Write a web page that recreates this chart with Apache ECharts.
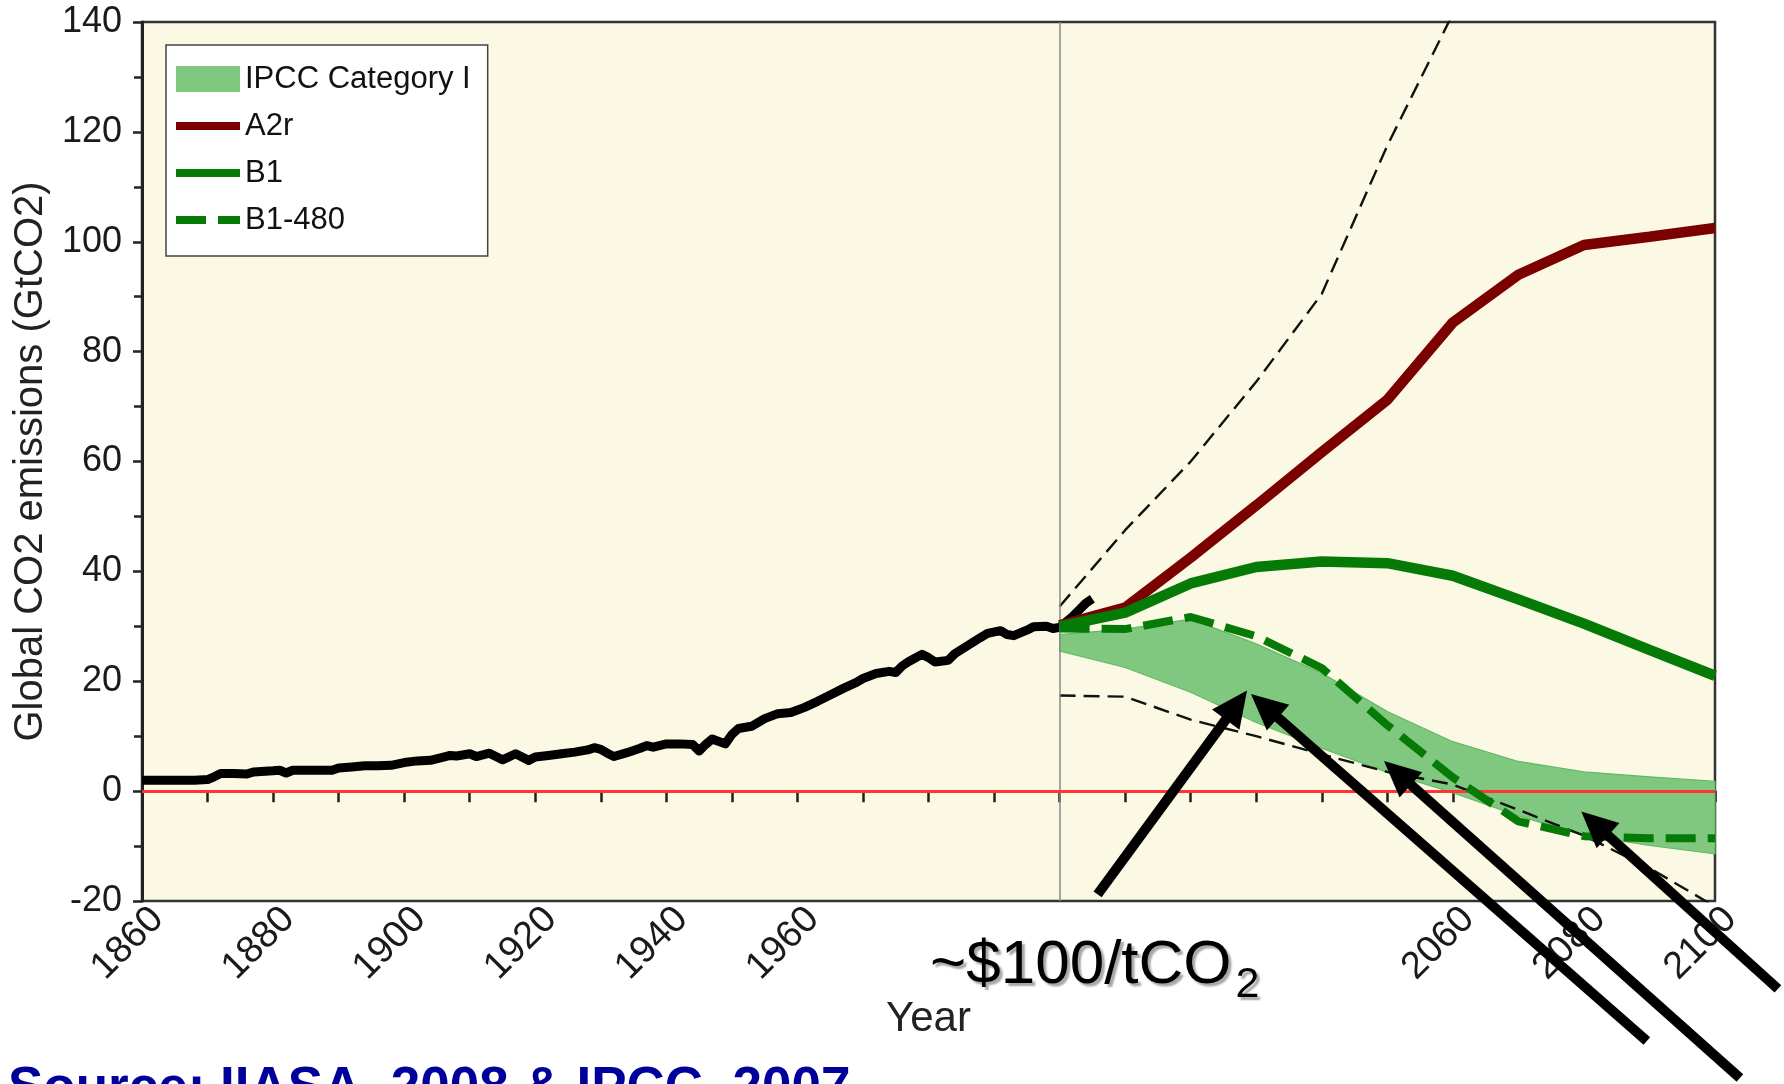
<!DOCTYPE html>
<html>
<head>
<meta charset="utf-8">
<title>Global CO2 emissions</title>
<script src="https://cdn.jsdelivr.net/npm/echarts@6.0.0/dist/echarts.min.js"></script>
<style>
  html, body { margin: 0; padding: 0; background: #ffffff; }
  #chart { width: 1784px; height: 1084px; }
</style>
</head>
<body>
<div id="chart"></div>
<script>
// Observed global CO2 emissions, [year, GtCO2]
const historical = [
  [1860, 2.0], [1862, 2.0], [1865, 2.0], [1868, 2.0], [1870, 2.1], [1871, 2.6], [1872, 3.2],
  [1874, 3.2], [1876, 3.1], [1877, 3.5], [1880, 3.7], [1881, 3.8], [1882, 3.3], [1883, 3.8],
  [1886, 3.8], [1889, 3.8], [1890, 4.2], [1892, 4.4], [1894, 4.6], [1896, 4.6], [1898, 4.7],
  [1900, 5.2], [1902, 5.5], [1904, 5.6], [1906, 6.2], [1907, 6.5], [1908, 6.4], [1910, 6.8],
  [1911, 6.3], [1912, 6.6], [1913, 6.9], [1915, 5.7], [1917, 6.8], [1919, 5.6], [1920, 6.2],
  [1922, 6.5], [1924, 6.8], [1926, 7.1], [1928, 7.5], [1929, 7.9], [1930, 7.6], [1931, 6.9],
  [1932, 6.3], [1934, 7.0], [1936, 7.8], [1937, 8.3], [1938, 8.0], [1940, 8.6], [1942, 8.6],
  [1944, 8.5], [1945, 7.3], [1946, 8.5], [1947, 9.5], [1949, 8.6], [1950, 10.3], [1951, 11.4],
  [1953, 11.8], [1955, 13.2], [1957, 14.1], [1959, 14.3], [1961, 15.2], [1963, 16.3], [1965, 17.5],
  [1967, 18.7], [1969, 19.8], [1970, 20.5], [1972, 21.4], [1974, 21.8], [1975, 21.6], [1976, 22.8],
  [1977, 23.6], [1979, 24.9], [1980, 24.3], [1981, 23.5], [1983, 23.8], [1984, 25.0], [1986, 26.5],
  [1988, 28.0], [1989, 28.7], [1991, 29.2], [1992, 28.5], [1993, 28.3], [1995, 29.3], [1996, 29.9],
  [1998, 30.0], [1999, 29.6], [2000, 29.8], [2001, 30.8], [2002, 31.8], [2003, 33.0], [2004, 34.2],
  [2005, 35.0]
];

// Scenario pathways, one value per decade
const scenarioYears = [2000, 2010, 2020, 2030, 2040, 2050, 2060, 2070, 2080, 2090, 2100];
const a2r       = [30.2, 33.4, 42.5, 52.0, 61.7, 71.2, 85.3, 94.0, 99.4, 100.9, 102.5];
const b1        = [30.0, 32.5, 37.8, 40.8, 41.8, 41.5, 39.2, 34.9, 30.5, 25.7, 21.0];
const b1_480    = [29.6, 29.5, 31.7, 28.2, 22.4, 12.0, 2.5, -5.5, -8.2, -8.6, -8.6];
const catIUpper = [28.5, 29.5, 31.3, 26.8, 21.5, 14.5, 9.0, 5.4, 3.5, 2.6, 1.8];
const catILower = [25.5, 22.5, 18.0, 12.5, 7.8, 3.4, -0.3, -4.5, -8.0, -9.9, -11.4];

// Envelope of the full scenario literature (thin dashed)
const envelopeHighYears = [2000, 2010, 2020, 2030, 2040, 2050, 2060];
const envelopeHigh      = [33.6, 47.5, 60.0, 74.5, 90.5, 117.5, 141.5];
const envelopeLow       = [17.4, 17.2, 13.0, 10.0, 6.7, 3.5, 1.2, -3.4, -8.1, -14.0, -21.0];

// Labelled year ticks
const xTickLabels = [1860, 1880, 1900, 1920, 1940, 1960, 2060, 2080, 2100];

// Call-out arrows: [tail, head] in [year, GtCO2]
const pointers = [
  [[2005.8, -18.8], [2028.6, 18.3]],
  [[2089.6, -45.5], [2029.2, 17.7]],
  [[2103.8, -52.2], [2049.5, 5.5]],
  [[2109.6, -36.0], [2079.6, -3.7]]
];

const SANS = '"Liberation Sans", Arial, Helvetica, sans-serif';

const pairs = (xs, ys) => ys.map((v, i) => [xs[i], v]);

const chart = echarts.init(document.getElementById('chart'), null, { renderer: 'canvas' });

const axisColor = '#222222';
const labelColor = '#1a1a1a';
const bandFill = '#80c880';
const bandEdge = '#62b962';
const a2rColor = '#7b0000';
const b1Color = '#067a06';

const option = {
  animation: false,
  backgroundColor: '#ffffff',
  grid: {
    left: 142, right: 69, top: 22, bottom: 183,
    show: true,
    backgroundColor: '#fbf9e3',
    borderColor: '#333333',
    borderWidth: 2.5
  },
  legend: {
    orient: 'vertical',
    left: 166,
    top: 45,
    backgroundColor: '#ffffff',
    borderColor: '#444444',
    borderWidth: 1.5,
    borderRadius: 0,
    padding: [14, 17, 16, 6],
    itemWidth: 64,
    itemHeight: 26,
    itemGap: 7,
    selectedMode: false,
    textStyle: { fontFamily: SANS, fontSize: 31, color: '#111111', lineHeight: 40 },
    data: [
      { name: 'IPCC Category I', icon: 'rect', itemStyle: { color: bandFill, opacity: 1 } },
      { name: 'A2r', itemStyle: { opacity: 0 }, lineStyle: { color: a2rColor, width: 8, type: 'solid' } },
      { name: 'B1', itemStyle: { opacity: 0 }, lineStyle: { color: b1Color, width: 8, type: 'solid' } },
      { name: 'B1-480', itemStyle: { opacity: 0 }, lineStyle: { color: b1Color, width: 8, type: [30, 12] } }
    ]
  },
  xAxis: {
    type: 'value',
    min: 1860,
    max: 2100,
    interval: 20,
    name: 'Year',
    nameLocation: 'middle',
    nameGap: 97,
    nameTextStyle: { fontFamily: SANS, fontSize: 42, color: '#222222' },
    splitLine: { show: false },
    axisLine: { lineStyle: { color: axisColor, width: 3 } },
    axisTick: { length: 11, lineStyle: { color: axisColor, width: 2.5 } },
    minorTick: { show: true, splitNumber: 2, length: 11, lineStyle: { color: axisColor, width: 2.5 } },
    axisLabel: {
      rotate: 45,
      margin: 28,
      padding: [0, -22, 0, 0],
      fontFamily: SANS,
      fontSize: 38,
      color: labelColor,
      formatter: v => (xTickLabels.indexOf(v) >= 0 ? String(v) : '')
    }
  },
  yAxis: {
    type: 'value',
    min: -20,
    max: 140,
    interval: 20,
    name: 'Global CO2 emissions (GtCO2)',
    nameLocation: 'middle',
    nameGap: 86,
    nameTextStyle: { fontFamily: SANS, fontSize: 40, color: '#222222' },
    splitLine: { show: false },
    axisLine: { lineStyle: { color: axisColor, width: 3 } },
    axisTick: { length: 9, lineStyle: { color: axisColor, width: 2.5 } },
    minorTick: { show: true, splitNumber: 2, length: 8, lineStyle: { color: axisColor, width: 2.5 } },
    axisLabel: { margin: 20, fontFamily: SANS, fontSize: 36, color: labelColor }
  },
  series: [
    {
      // IPCC Category I range, filled between its lower and upper bounds
      name: 'IPCC Category I',
      type: 'custom',
      silent: true,
      z: 2,
      itemStyle: { color: bandFill },
      data: scenarioYears.map((y, i) => [y, catILower[i], catIUpper[i]]),
      encode: { x: 0, y: [1, 2] },
      renderItem: (params, api) => {
        if (params.dataIndex !== 0) return null;
        const top = scenarioYears.map((y, i) => api.coord([y, catIUpper[i]]));
        const bottom = scenarioYears.map((y, i) => api.coord([y, catILower[i]])).reverse();
        return {
          type: 'polygon',
          shape: { points: top.concat(bottom) },
          style: { fill: bandFill, stroke: bandEdge, lineWidth: 1.2 }
        };
      }
    },
    {
      name: 'Envelope high',
      type: 'line',
      data: pairs(envelopeHighYears, envelopeHigh),
      symbol: 'none',
      silent: true,
      clip: true,
      lineStyle: { color: '#111111', width: 2.4, type: [16, 8] },
      z: 3
    },
    {
      name: 'Envelope low',
      type: 'line',
      data: pairs(scenarioYears, envelopeLow),
      symbol: 'none',
      silent: true,
      clip: true,
      lineStyle: { color: '#111111', width: 2.4, type: [16, 8] },
      z: 3,
      markLine: {
        silent: true,
        symbol: 'none',
        label: { show: false },
        lineStyle: { color: '#8a8a8a', width: 1.5, type: 'solid' },
        data: [{ xAxis: 2000 }]
      }
    },
    {
      name: 'Historical',
      type: 'line',
      data: historical,
      symbol: 'none',
      silent: true,
      lineStyle: { color: '#000000', width: 9, join: 'round' },
      z: 4,
      markLine: {
        silent: true,
        symbol: 'none',
        label: { show: false },
        lineStyle: { color: '#ff3535', width: 3, type: 'solid' },
        data: [{ yAxis: 0 }]
      }
    },
    {
      name: 'A2r',
      type: 'line',
      data: pairs(scenarioYears, a2r),
      symbol: 'none',
      silent: true,
      itemStyle: { color: a2rColor },
      lineStyle: { color: a2rColor, width: 10.5 },
      z: 5
    },
    {
      name: 'B1',
      type: 'line',
      data: pairs(scenarioYears, b1),
      symbol: 'none',
      silent: true,
      itemStyle: { color: b1Color },
      lineStyle: { color: b1Color, width: 10.5 },
      z: 5
    },
    {
      name: 'B1-480',
      type: 'line',
      data: pairs(scenarioYears, b1_480),
      symbol: 'none',
      silent: true,
      itemStyle: { color: b1Color },
      lineStyle: { color: b1Color, width: 8, type: [30, 12] },
      z: 5
    }
  ]
};

chart.setOption(option);

// Arrows, placed from their data coordinates
const toPx = p => chart.convertToPixel({ gridIndex: 0 }, p);
const graphics = [];
pointers.forEach(([tail, head]) => {
  const t = toPx(tail);
  const h = toPx(head);
  const dx = h[0] - t[0], dy = h[1] - t[1];
  const len = Math.sqrt(dx * dx + dy * dy);
  const ux = dx / len, uy = dy / len;
  const nx = -uy, ny = ux;
  const headLen = 36, headHalf = 17;
  const bx = h[0] - ux * headLen, by = h[1] - uy * headLen;
  graphics.push({
    type: 'line',
    silent: true,
    z: 100,
    shape: { x1: t[0], y1: t[1], x2: bx + ux * 3, y2: by + uy * 3 },
    style: { stroke: '#000000', lineWidth: 10, lineCap: 'butt' }
  });
  graphics.push({
    type: 'polygon',
    silent: true,
    z: 100,
    shape: { points: [[h[0], h[1]], [bx + nx * headHalf, by + ny * headHalf], [bx - nx * headHalf, by - ny * headHalf]] },
    style: { fill: '#000000' }
  });
});

// Carbon price note with subscript
const priceText = '~$100/tCO';
const measureCtx = document.createElement('canvas').getContext('2d');
measureCtx.font = '62px ' + SANS;
const priceWidth = measureCtx.measureText(priceText).width;
const priceX = 930;
const shadow = { textShadowColor: 'rgba(0,0,0,0.35)', textShadowBlur: 2, textShadowOffsetX: 3, textShadowOffsetY: 3 };
graphics.push({
  type: 'text',
  silent: true,
  z: 90,
  x: priceX,
  y: 935,
  style: Object.assign({
    text: priceText,
    fontFamily: SANS,
    fontSize: 62,
    fill: '#000000',
    align: 'left',
    verticalAlign: 'top'
  }, shadow)
});
graphics.push({
  type: 'text',
  silent: true,
  z: 90,
  x: priceX + priceWidth + 4,
  y: 964,
  style: Object.assign({
    text: '2',
    fontFamily: SANS,
    fontSize: 43,
    fill: '#000000',
    align: 'left',
    verticalAlign: 'top'
  }, shadow)
});

// Source line along the bottom edge
graphics.push({
  type: 'text',
  silent: true,
  z: 90,
  x: 8,
  y: 1063,
  style: {
    text: 'Source: IIASA, 2008 & IPCC, 2007',
    fontFamily: SANS,
    fontWeight: 'bold',
    fontSize: 53,
    fill: '#00009a',
    align: 'left',
    verticalAlign: 'top'
  }
});

chart.setOption({ graphic: graphics });
</script>
</body>
</html>
